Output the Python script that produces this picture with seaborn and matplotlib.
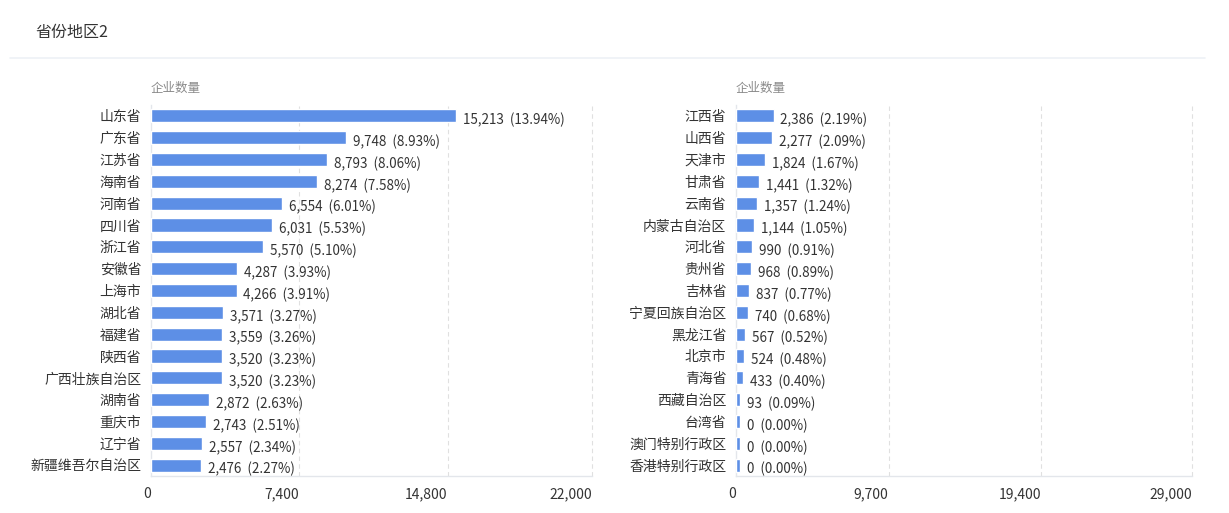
import matplotlib
matplotlib.use("Agg")
import matplotlib.pyplot as plt
import seaborn as sns
import pandas as pd

left_names = ["山东省", "广东省", "江苏省", "海南省", "河南省", "四川省", "浙江省", "安徽省",
              "上海市", "湖北省", "福建省", "陕西省", "广西壮族自治区", "湖南省", "重庆市",
              "辽宁省", "新疆维吾尔自治区"]
left_counts = [15213, 9748, 8793, 8274, 6554, 6031, 5570, 4287, 4266, 3571, 3559, 3520,
               3520, 2872, 2743, 2557, 2476]
left_pcts = ["13.94%", "8.93%", "8.06%", "7.58%", "6.01%", "5.53%", "5.10%", "3.93%", "3.91%",
             "3.27%", "3.26%", "3.23%", "3.23%", "2.63%", "2.51%", "2.34%", "2.27%"]
left_ticks = [0, 7400, 14800, 22000]

right_names = ["江西省", "山西省", "天津市", "甘肃省", "云南省", "内蒙古自治区", "河北省", "贵州省",
               "吉林省", "宁夏回族自治区", "黑龙江省", "北京市", "青海省", "西藏自治区", "台湾省",
               "澳门特别行政区", "香港特别行政区"]
right_counts = [2386, 2277, 1824, 1441, 1357, 1144, 990, 968, 837, 740, 567, 524, 433, 93, 0, 0, 0]
right_pcts = ["2.19%", "2.09%", "1.67%", "1.32%", "1.24%", "1.05%", "0.91%", "0.89%", "0.77%",
              "0.68%", "0.52%", "0.48%", "0.40%", "0.09%", "0.00%", "0.00%", "0.00%"]
right_ticks = [0, 9700, 19400, 29000]

BAR = "#5D8FE6"
TXT = "#333333"

sns.set_theme(style="white")
plt.rcParams["font.family"] = ["Noto Sans CJK SC", "DejaVu Sans"]

fig = plt.figure(figsize=(12.29, 5.13), dpi=100)
fig.text(35 / 1229, 1 - 32 / 513, "省份地区2", fontsize=11.5, color="#333333", va="center")
fig.add_artist(plt.Line2D([10 / 1229, 1205 / 1229], [1 - 58 / 513] * 2,
                          color="#EEF1F6", lw=1.2, transform=fig.transFigure))


def draw_panel(rect, names, counts, pcts, ticks):
    ax = fig.add_axes(rect)
    xmax = ticks[-1]
    # echarts-style minimum bar length so zero rows still show a stub
    shown = [max(c, xmax * 0.009) for c in counts]
    df = pd.DataFrame({"name": names, "count": shown})
    sns.barplot(data=df, x="count", y="name", ax=ax, color=BAR, width=0.6,
                saturation=1, orient="h", zorder=3)
    ax.set_xlim(0, xmax)
    ax.set_xticks(ticks)
    ax.set_xticklabels([f"{t:,}" for t in ticks], fontsize=10, color=TXT, ha="right")
    ax.tick_params(axis="y", labelsize=10, colors=TXT, length=0, pad=7)
    ax.tick_params(axis="x", length=0, pad=8)
    ax.set_ylim(len(names) - 0.5, -0.5)
    ax.set_xlabel("")
    ax.set_ylabel("")
    for t in ticks[1:]:
        ax.axvline(t, color="#E0E0E0", lw=0.8, ls=(0, (4, 3)), zorder=0, clip_on=False)
    for s in ["top", "right"]:
        ax.spines[s].set_visible(False)
    for s in ["left", "bottom"]:
        ax.spines[s].set_color("#E3E6EB")
        ax.spines[s].set_linewidth(1)
    for i, (v, c, p) in enumerate(zip(shown, counts, pcts)):
        ax.annotate(f"{c:,}  ({p})", xy=(v, i), xytext=(5, -3), textcoords="offset points",
                    ha="left", va="center", fontsize=9.7, color=TXT)
    ax.annotate("企业数量", xy=(0, 1), xycoords="axes fraction", xytext=(0, 17),
                textcoords="offset pixels", fontsize=9, color="#8A8A8A", ha="left", va="center")
    return ax


draw_panel([151 / 1229, 1 - 476 / 513, 441 / 1229, 371 / 513], left_names, left_counts,
           left_pcts, left_ticks)
draw_panel([736 / 1229, 1 - 476 / 513, 456 / 1229, 371 / 513], right_names, right_counts,
           right_pcts, right_ticks)

fig.savefig("out.png", dpi=100, facecolor="white")
